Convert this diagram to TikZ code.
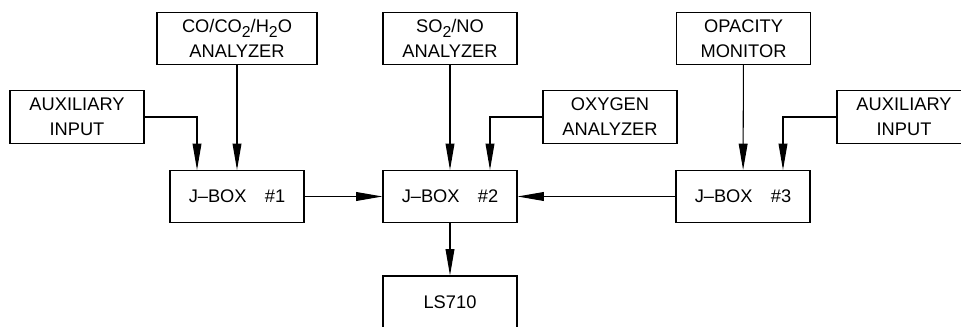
\documentclass[tikz,border=0pt]{standalone}
\usepackage{fontspec}
\setmainfont{Liberation Sans}
\usetikzlibrary{positioning,arrows.meta}
\newcommand{\subs}[1]{\raisebox{-0.55ex}{\fontsize{9}{9}\selectfont #1}}

\begin{document}
\begin{tikzpicture}[x=0.02cm,y=-0.02cm,
  box/.style={draw,line width=0.6pt,align=center,inner sep=0pt,
    minimum width=2.68cm,minimum height=1.04cm,
    font=\fontsize{10.4}{14.2}\selectfont},
  arr/.style={line width=0.6pt,-{Triangle[length=15pt,width=5pt]}}]
\useasboundingbox (0,0) rectangle (961,327);
\clip (0,0) rectangle (961,327);
% sources
\node[box,minimum width=3.2cm] (co) at (237,38.5) {CO/CO\subs{2}/H\subs{2}O\\ANALYZER};
\node[box] (so) at (450,38.5) {SO\subs{2}/NO\\ANALYZER};
\node[box] (opa) at (743.5,38.5) {OPACITY\\MONITOR};
\node[box,minimum height=1.06cm] (aux1) at (77,117) {AUXILIARY\\INPUT};
\node[box,minimum height=1.06cm] (oxy) at (610,117) {OXYGEN\\ANALYZER};
\node[box,minimum height=1.06cm] (aux2) at (904,117) {AUXILIARY\\INPUT};
% junction boxes
\node[box] (jb1) at (237,196.5) {J--BOX\quad\#1};
\node[box] (jb2) at (450,196.5) {J--BOX\quad\#2};
\node[box] (jb3) at (743,196.5) {J--BOX\quad\#3};
\node[box] (ls) at (450,302) {LS710};
% connections
\draw[arr] (co) -- (jb1);
\draw[arr] (aux1) -| ([xshift=-0.8cm]jb1.north);
\draw[arr] (so) -- (jb2);
\draw[arr] (oxy) -| ([xshift=0.8cm]jb2.north);
\draw[arr] (opa) -- (jb3);
\draw[arr] (aux2) -| ([xshift=0.8cm]jb3.north);
\draw[arr] (jb1) -- (jb2);
\draw[arr] (jb3) -- (jb2);
\draw[arr] (jb2) -- (ls);
\end{tikzpicture}
\end{document}
